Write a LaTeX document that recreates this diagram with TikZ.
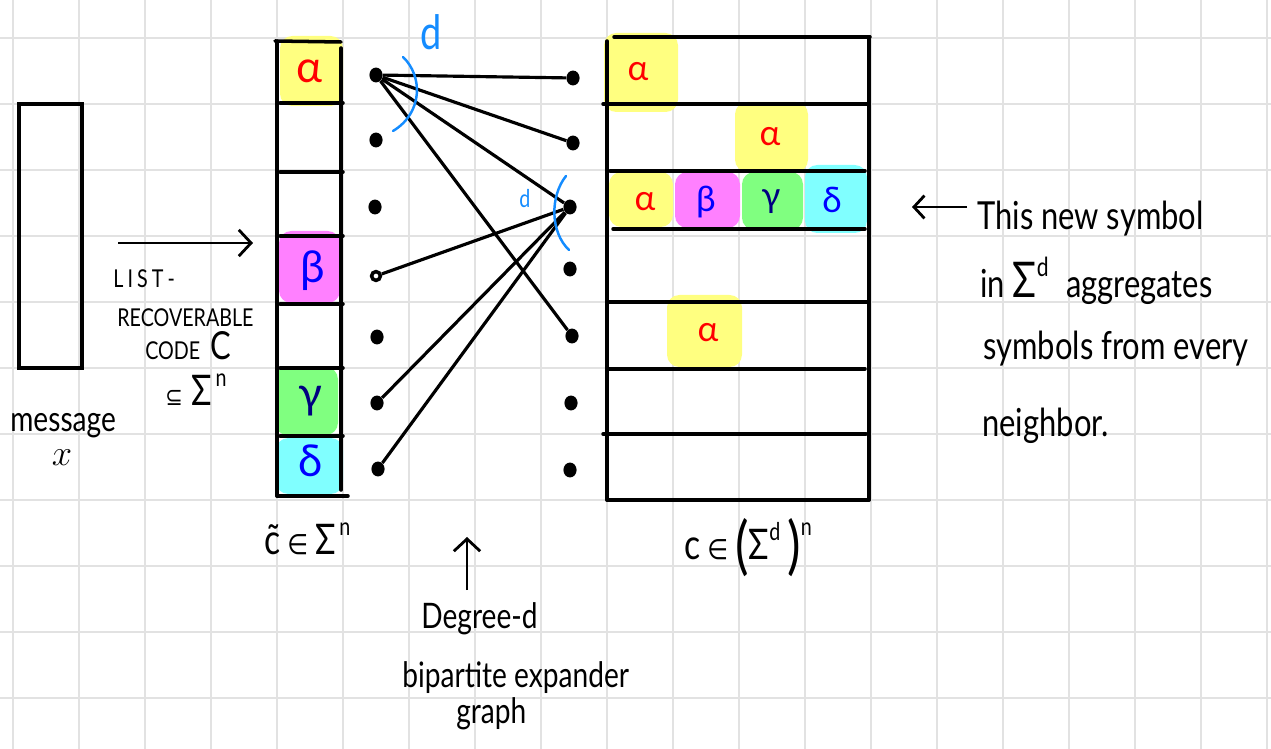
\documentclass[tikz,border=0pt]{standalone}
\usepackage[no-math]{fontspec}
\setmainfont{Lato}[FakeStretch=0.8]
\newfontfamily\grk{Lato}
\newfontfamily\djv{DejaVu Sans}[FakeStretch=0.85]
\usetikzlibrary{arrows.meta,shapes.geometric}
\definecolor{hlY}{RGB}{255,255,128}
\definecolor{hlP}{RGB}{255,128,255}
\definecolor{hlG}{RGB}{128,255,128}
\definecolor{hlC}{RGB}{128,255,255}
\definecolor{annot}{RGB}{20,140,255}
\definecolor{navy}{RGB}{0,0,128}
\definecolor{gridc}{RGB}{226,226,226}
\begin{document}
\begin{tikzpicture}[x=0.02cm,y=-0.02cm,
  gridline/.style={draw=gridc,line width=1.1pt},
  box/.style={line width=2pt,line cap=round},
  edge/.style={line width=1.8pt},
  vdot/.style={ellipse,fill=black,minimum width=7.5pt,minimum height=8.5pt,inner sep=0pt},
  hl/.style={rounded corners=7pt},
  symA/.style={font=\grk\fontsize{25}{25}\selectfont,inner sep=0pt},
  symB/.style={font=\grk\fontsize{20}{20}\selectfont,inner sep=0pt},
  hand/.style={font=\fontsize{22}{22}\selectfont,anchor=base west,inner sep=0pt},
  handS/.style={font=\fontsize{14}{14}\selectfont,anchor=base west,inner sep=0pt},
  handM/.style={font=\fontsize{20}{20}\selectfont,anchor=base west,inner sep=0pt},
  arr/.style={line width=1.6pt,-{Straight Barb[length=7pt,width=15pt]}},
  dmark/.style={draw=annot,line width=1.4pt,line cap=round}
]
\useasboundingbox (0,0) rectangle (1271,749);
\fill[white] (0,0) rectangle (1271,749);
% grid
\foreach \i in {0,...,19} \draw[gridline] (13+66*\i,0) -- (13+66*\i,749);
\foreach \j in {0,...,10} \draw[gridline] (0,38+66*\j) -- (1271,38+66*\j);

% message box
\draw[box] (19,104) rectangle (82,368);
\node[handM] (msg) at (10,432) {message};
\node[font=\fontsize{22}{22}\selectfont,inner sep=0pt] (msgx) at (62,458) {$x$};

% arrow to code
\coordinate (a1s) at (118,243);
\coordinate (a1e) at (253,243);
\draw[arr] (a1s) -- (a1e);
\node[handS] (t1) at (113,288) {L\,I\,S\,T\,-};
\node[handS] (t2) at (117,327) {RECOVERABLE};
\node[handS] (t3) at (145,360) {CODE\hspace{6pt}{\fontsize{22}{22}\selectfont C}};
\node[font=\fontsize{24}{24}\selectfont,anchor=base west,inner sep=0pt] (t4) at (165,406) {{\djv\fontsize{14}{14}\selectfont ⊆}\hspace{5pt}Σ\hspace{2pt}\raisebox{11pt}{\fontsize{14}{14}\selectfont n}};

% left column highlights
\fill[hlY,hl] (280,36) rectangle (343,106);
\fill[hlP,hl] (279,231) rectangle (340,303);
\fill[hlG,hl] (275,367) rectangle (338,435);
\fill[hlC,hl] (276,438) rectangle (343,494);
% left column lines
\draw[box] (275,41) -- (341,42);
\draw[box] (277,41) -- (277,496);
\draw[box] (341,48) -- (341,490);
\draw[box] (277,496) -- (348,496);
\foreach \y in {103,172,236,304,368,436} \draw[box] (280,\y) -- (343,\y);
\node[symA,red] (ca) at (309,71) {α};
\node[symA,blue] (cb) at (313,271) {β};
\node[symA,navy] (cg) at (310,401) {γ};
\node[symA,blue] (cd) at (311,461) {δ};
\node[font=\fontsize{24}{24}\selectfont,anchor=base west,inner sep=0pt] (ctl) at (264,555) {\~{c}\,{\djv\fontsize{16}{16}\selectfont ∈}\,Σ\hspace{2pt}\raisebox{11pt}{\fontsize{14}{14}\selectfont n}};

% graph vertices
\node[vdot] (l1) at (376,75) {};
\node[vdot] (l2) at (376,140) {};
\node[vdot] (l3) at (375,207) {};
\node[vdot,fill=white,draw=black,line width=2pt,minimum width=5pt,minimum height=5pt] (l4) at (376,276) {};
\node[vdot] (l5) at (377,337) {};
\node[vdot] (l6) at (377,403) {};
\node[vdot] (l7) at (378,469) {};
\node[vdot] (r1) at (573,78) {};
\node[vdot] (r2) at (573,143) {};
\node[vdot] (r3) at (570,207) {};
\node[vdot] (r4) at (570,269) {};
\node[vdot] (r5) at (572,336) {};
\node[vdot] (r6) at (571,403) {};
\node[vdot] (r7) at (570,470) {};
\draw[edge] (l1) -- (r1);
\draw[edge] (l1) -- (r2);
\draw[edge] (l1) -- (r3);
\draw[edge] (l1) -- (r5);
\draw[edge] (l4) -- (r3);
\draw[edge] (l6) -- (r3);
\draw[edge] (l7) -- (r3);
% degree marks
\draw[dmark] (403,57) .. controls (423,76) and (423,113) .. (393,131);
\node[font=\fontsize{27}{27}\selectfont,text=annot,inner sep=0pt] (d1) at (431,32) {d};
\draw[dmark] (566,176) .. controls (550,196) and (550,232) .. (569,250);
\node[font=\fontsize{14}{14}\selectfont,text=annot,inner sep=0pt] (d2) at (525,199) {d};

% graph label
\coordinate (a2s) at (467,590);
\coordinate (a2e) at (467,537);
\draw[arr] (a2s) -- (a2e);
\node[handM] (g1) at (421,628) {Degree-d};
\node[handM] (g2) at (402,687) {bipartite expander};
\node[handM] (g3) at (456,723) {graph};

% right table highlights
\fill[hlY,hl] (604,33) rectangle (678,112);
\fill[hlY,hl] (735,102) rectangle (808,172);
\fill[hlY,hl] (609,172) rectangle (673,227);
\fill[hlP,hl] (675,172) rectangle (740,228);
\fill[hlG,hl] (742,172) rectangle (803,230);
\fill[hlC,hl] (805,165) rectangle (867,233);
\fill[hlY,hl] (667,295) rectangle (742,367);
% right table lines
\draw[box] (614,37) -- (870,37);
\draw[box] (607,41) -- (607,500);
\draw[box] (869,37) -- (869,500);
\draw[box] (607,500) -- (869,500);
\draw[box] (603,104) -- (868,104);
\draw[box] (610,171) -- (865,171);
\draw[box] (613,229) -- (865,229);
\draw[box] (607,302) -- (868,302);
\draw[box] (607,369) -- (865,369);
\draw[box] (603,434) -- (866,434);
\node[symB,red] (ra1) at (638,72) {α};
\node[symB,red] (ra2) at (770,137) {α};
\node[symB,red] (ra3) at (645,202) {α};
\node[symB,blue] (rb3) at (706,202) {β};
\node[symB,navy] (rg3) at (771,202) {γ};
\node[symB,blue] (rd3) at (832,200) {δ};
\node[symB,red] (ra5) at (708,333) {α};
\node[font=\fontsize{24}{24}\selectfont,anchor=base west,inner sep=0pt] (cbig) at (684,560) {c\,{\djv\fontsize{16}{16}\selectfont ∈}\,\raisebox{-4pt}{\fontsize{36}{36}\selectfont (}Σ\raisebox{11pt}{\fontsize{14}{14}\selectfont d}\,\raisebox{-4pt}{\fontsize{36}{36}\selectfont )}\raisebox{14pt}{\fontsize{14}{14}\selectfont n}};

% right annotation
\coordinate (a3s) at (967,207);
\coordinate (a3e) at (912,207);
\draw[line width=1.6pt,-{Straight Barb[length=6pt,width=13pt]}] (a3s) -- (a3e);
\node[hand] (n1) at (977,230) {This new symbol};
\node[hand] (n2) at (980,298) {in {\fontsize{28}{28}\selectfont Σ}\raisebox{12pt}{\fontsize{15}{15}\selectfont d}\hspace{10pt}aggregates};
\node[hand] (n3) at (983,360) {symbols from every};
\node[hand] (n4) at (982,437) {neighbor.};
\end{tikzpicture}
\end{document}
